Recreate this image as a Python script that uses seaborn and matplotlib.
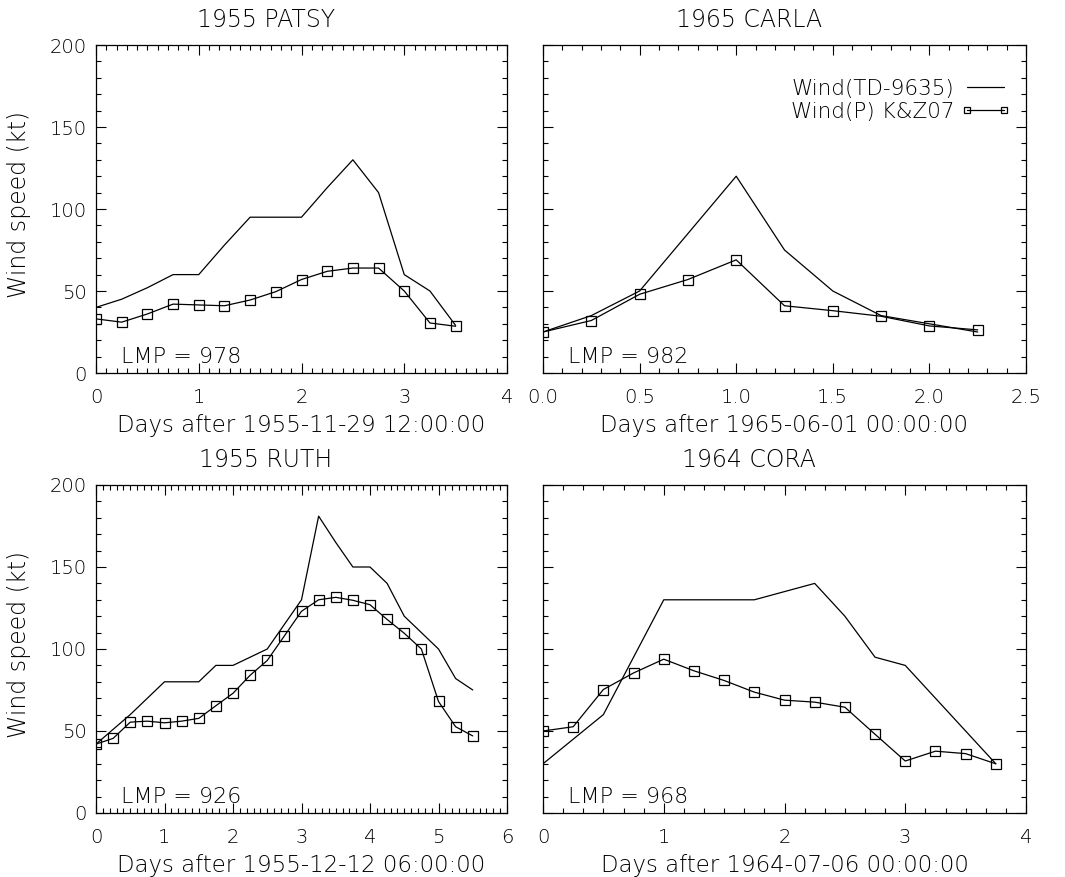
import numpy as np
import pandas as pd
import matplotlib
matplotlib.use("Agg")
import matplotlib.pyplot as plt
import seaborn as sns
from matplotlib.ticker import MultipleLocator
from matplotlib.lines import Line2D

# ---------------- data ----------------
titles = ["1955 PATSY", "1965 CARLA", "1955 RUTH", "1964 CORA"]
xlabels = ["Days after 1955-11-29 12:00:00", "Days after 1965-06-01 00:00:00",
           "Days after 1955-12-12 06:00:00", "Days after 1964-07-06 00:00:00"]
lmp = [978, 982, 926, 968]

patsy_days = [0, 0.25, 0.5, 0.75, 1.0, 1.25, 1.5, 1.75, 2.0, 2.25, 2.5, 2.75, 3.0, 3.25, 3.5]
patsy_td = [40, 45, 52, 60, 60, 78, 95, 95, 95, 113, 130, 110, 60, 50, 29]
patsy_kz = [33, 31, 36, 42, 41.5, 41, 44.5, 49.6, 57, 62, 64, 64, 50, 30.5, 28.5]

carla_days = [0, 0.25, 0.5, 0.75, 1.0, 1.25, 1.5, 1.75, 2.0, 2.25]
carla_td = [25, 35, 50, 85, 120, 75, 50, 35, 30, 25]
carla_kz = [25, 32, 48, 57, 69, 41, 38, 34.6, 28.7, 26.3]

ruth_days = [0, 0.25, 0.5, 0.75, 1.0, 1.25, 1.5, 1.75, 2.0, 2.25, 2.5, 2.75,
             3.0, 3.25, 3.5, 3.75, 4.0, 4.25, 4.5, 4.75, 5.0, 5.25, 5.5]
ruth_td = [42, 51, 60, 70, 80, 80, 80, 90, 90, 95, 100, 115,
           130, 181, 165, 150, 150, 140, 120, 110, 100, 82, 75]
ruth_kz = [42, 45.5, 55.4, 56, 55, 56, 57.7, 65.4, 73, 84, 93, 108,
           123, 130, 131.5, 129.7, 127, 118, 109.6, 100, 68, 52.6, 47]

cora_days = [0, 0.25, 0.5, 0.75, 1.0, 1.25, 1.5, 1.75, 2.0, 2.25, 2.5, 2.75,
             3.0, 3.25, 3.5, 3.75]
cora_td = [30, 45, 60, 95, 130, 130, 130, 130, 135, 140, 120, 95,
           90, 70, 50, 30]
cora_kz = [50, 52.6, 75.3, 85.4, 93.8, 86.7, 80.8, 73.7, 68.8, 67.6, 64.5, 48,
           31.7, 37.7, 36.2, 30]

series = [(patsy_days, patsy_td, patsy_kz), (carla_days, carla_td, carla_kz),
          (ruth_days, ruth_td, ruth_kz), (cora_days, cora_td, cora_kz)]

xlims = [(0, 4), (0, 2.5), (0, 6), (0, 4)]
xmajor = [1, 0.5, 1, 1]
xminor = [0.1, 0.1, 0.1, 1 / 6]
xfmt = ["{:.0f}", "{:.1f}", "{:.0f}", "{:.0f}"]
yticks = [0, 50, 100, 150, 200]

leg_labels = ["Wind(TD-9635)", "Wind(P) K&Z07"]

# ---------------- style ----------------
sns.set_style("ticks")
plt.rcParams["font.family"] = ["DejaVu Sans"]
plt.rcParams["font.weight"] = "light"
plt.rcParams["axes.labelweight"] = "light"
plt.rcParams["axes.titleweight"] = "light"
plt.rcParams["text.color"] = "black"
plt.rcParams["axes.labelcolor"] = "black"
plt.rcParams["xtick.color"] = "black"
plt.rcParams["ytick.color"] = "black"
FS_TICK = 14
FS_TITLE = 17
FS_XLAB = 16.5
FS_YLAB = 17
FS_LMP = 16
FS_LEG = 15.5

W, H = 1065, 877
fig = plt.figure(figsize=(W / 100, H / 100), dpi=100)

# axes pixel boxes (left, right, top, bottom)
boxes = [(96, 507, 45, 373), (543, 1026, 45, 373),
         (96, 507, 485, 813), (543, 1026, 485, 813)]
title_cx = [266, 749, 266, 749]

for i, (l, r, t, b) in enumerate(boxes):
    ax = fig.add_axes([l / W, 1 - b / H, (r - l) / W, (b - t) / H])
    days, td, kz = series[i]
    df = pd.DataFrame({"days": days, "td": td, "kz": kz})
    sns.lineplot(data=df, x="days", y="td", ax=ax, color="black", lw=0.9)
    sns.lineplot(data=df, x="days", y="kz", ax=ax, color="black", lw=0.9,
                 marker="s", markersize=6.5, markerfacecolor="none",
                 markeredgecolor="black", markeredgewidth=0.9)
    ax.set_xlim(*xlims[i])
    ax.set_ylim(0, 200)
    ax.xaxis.set_major_locator(MultipleLocator(xmajor[i]))
    ax.xaxis.set_minor_locator(MultipleLocator(xminor[i]))
    ax.yaxis.set_major_locator(MultipleLocator(50))
    ax.yaxis.set_minor_locator(MultipleLocator(10))
    xt = np.arange(xlims[i][0], xlims[i][1] + 1e-9, xmajor[i])
    ax.set_xticks(xt)
    ax.set_xticklabels([xfmt[i].format(v) for v in xt], fontsize=FS_TICK)
    ax.set_yticks(yticks)
    if i % 2 == 0:
        ax.set_yticklabels([str(v) for v in yticks], fontsize=FS_TICK)
        ax.set_ylabel("Wind speed (kt)", fontsize=FS_YLAB)
        ax.yaxis.set_label_coords(-0.158, 0.515)
    else:
        ax.set_yticklabels([])
        ax.set_ylabel("")
    ax.tick_params(which="both", direction="in", top=True, right=True,
                   width=0.8, colors="black")
    ax.tick_params(axis="x", which="major", pad=10.5)
    ax.tick_params(axis="y", which="major", pad=6.5)
    ax.tick_params(which="major", length=7)
    ax.tick_params(which="minor", length=3.5)
    for s in ax.spines.values():
        s.set_linewidth(0.9)
        s.set_color("black")
    ax.set_xlabel(xlabels[i], fontsize=FS_XLAB, labelpad=5)
    ax.set_title(titles[i], fontsize=FS_TITLE, pad=13,
                 x=(title_cx[i] - l) / (r - l))
    ax.annotate(f"LMP = {lmp[i]}", xy=(0, 0), xycoords="axes fraction",
                xytext=(25, 6), textcoords="offset pixels",
                fontsize=FS_LMP, ha="left", va="bottom")
    if i == 1:
        handles = [Line2D([], [], color="black", lw=0.9),
                   Line2D([], [], color="black", lw=0.9, marker="s",
                          markersize=5, markerfacecolor="none",
                          markeredgewidth=0.9)]
        ax.legend(handles, leg_labels, loc="upper right",
                  bbox_to_anchor=((1010 - 543) / 483, 1 - (79 - 45) / 328),
                  frameon=False, markerfirst=False, fontsize=FS_LEG,
                  handlelength=2.3, handletextpad=0.3, borderpad=0,
                  borderaxespad=0, labelspacing=0.12, numpoints=2)

fig.savefig("out.png", dpi=100)
